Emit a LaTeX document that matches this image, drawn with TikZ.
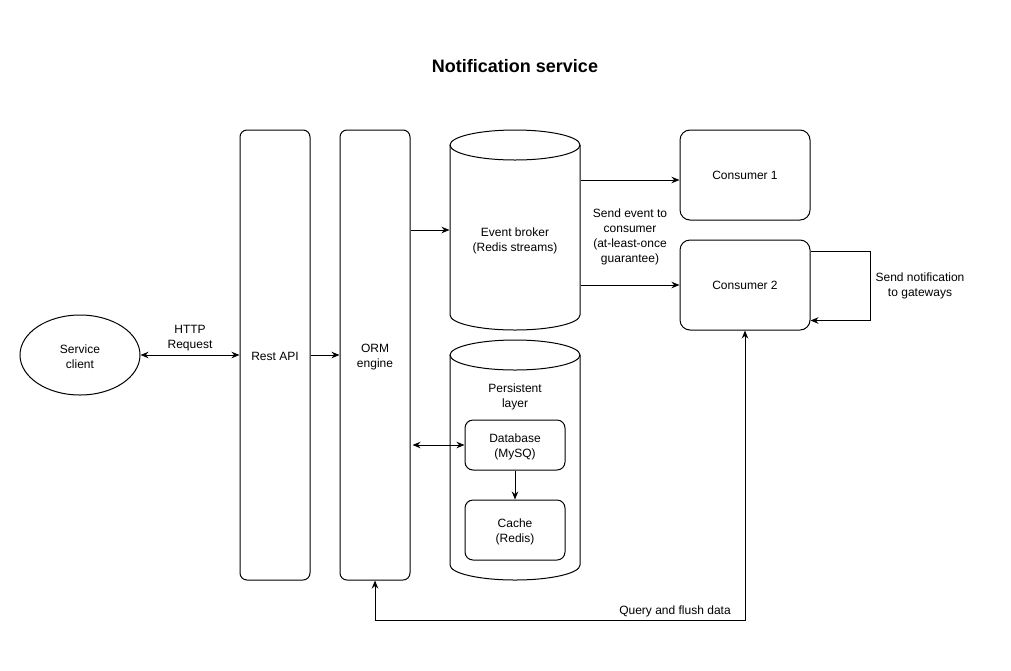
\documentclass[tikz,border=0pt]{standalone}
\usepackage{fontspec}
\setmainfont{Liberation Sans}
\usetikzlibrary{arrows.meta,shapes.geometric}

\begin{document}
\begin{tikzpicture}[x=1pt,y=-1pt,line width=1pt,>={Stealth[length=8pt,width=6.5pt]},
    every node/.style={font=\fontsize{12}{15}\selectfont, align=center},
    box/.style={draw, rounded corners=#1, inner sep=0pt},
    box/.default=8pt]
    \useasboundingbox (0,0) rectangle (1011,670);

    \node[font=\fontsize{18}{20}\selectfont\bfseries] (title) at (515,66) {Notification service};

    \node[draw, ellipse, minimum width=120pt, minimum height=80pt, inner sep=0pt] (client) at (80,355) {};
    \node (clientlbl) at (80,357) {Service\\client};
    \node[box=7pt, minimum width=70pt, minimum height=450pt] (rest) at (275,355) {};
    \node (restlbl) at (275,356) {Rest API};
    \node[box=7pt, minimum width=70pt, minimum height=450pt] (orm) at (375,355) {};
    \node (ormlbl) at (375,357) {ORM\\engine};

    % event broker cylinder
    \node[minimum width=130pt, minimum height=200pt, inner sep=0pt] (broker) at (515,230) {};
    \draw (515,145) ellipse [x radius=65pt, y radius=15pt];
    \draw (450,145) -- (450,315) .. controls (450,323.3) and (479.1,330) .. (515,330)
        .. controls (550.9,330) and (580,323.3) .. (580,315) -- (580,145);
    \node (brokerlbl) at (515,241) {Event broker\\(Redis streams)};

    % persistent layer cylinder
    \node[minimum width=130pt, minimum height=240pt, inner sep=0pt] (persist) at (515,460) {};
    \draw (515,355) ellipse [x radius=65pt, y radius=15pt];
    \draw (450,355) -- (450,565) .. controls (450,573.3) and (479.1,580) .. (515,580)
        .. controls (550.9,580) and (580,573.3) .. (580,565) -- (580,355);
    \node (persistlbl) at (515,397) {Persistent\\layer};
    \node[box, minimum width=100pt, minimum height=50pt] (db) at (515,445) {};
    \node (dblbl) at (515,447) {Database\\(MySQ)};
    \node[box, minimum width=100pt, minimum height=60pt] (cache) at (515,530) {};
    \node (cachelbl) at (515,532) {Cache\\(Redis)};

    \node[box=10pt, minimum width=130pt, minimum height=90pt] (c1) at (745,175) {Consumer 1};
    \node[box=10pt, minimum width=130pt, minimum height=90pt] (c2) at (745,285) {Consumer 2};

    \draw[<->] (client) -- node[above] {HTTP\\Request} (rest);
    \draw[->] (rest) -- (orm);
    \draw[->] (orm.east |- broker) -- (broker);
    \draw[<->] ([xshift=2pt]orm.east |- db) -- (db);
    \draw[->] (db) -- (cache);

    \draw[->] ([yshift=-5pt]c1.west -| broker.east) -- ([yshift=-5pt]c1.west);
    \draw[->] (broker.east |- c2) -- (c2);
    \node (sendlbl) at (630,237) {Send event to\\consumer\\(at-least-once\\guarantee)};

    \draw[->] ([yshift=-12pt]c2.north east) -- ++(60,0) |- ([yshift=10pt]c2.south east);
    \node (notiflbl) at (920,286) {Send notification\\to gateways};

    \draw[<->] (c2.south) -- ++(0,290) -| (orm.south);
    \node (querylbl) at (675,611) {Query and flush data};
\end{tikzpicture}
\end{document}
